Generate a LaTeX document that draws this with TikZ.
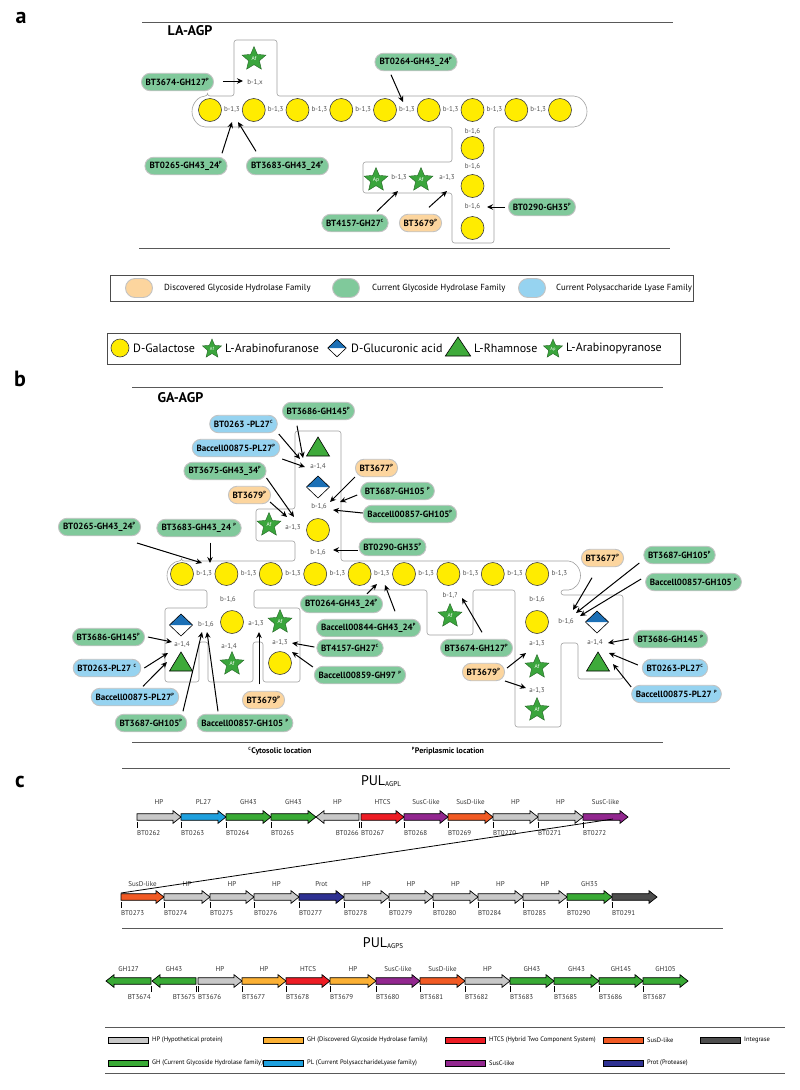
\documentclass[tikz,border=0pt]{standalone}
\usepackage{fontspec}
\setmainfont{PT Sans}
\usetikzlibrary{arrows.meta,shapes.geometric,shapes.misc}

\definecolor{ghgreen}{RGB}{128,201,155}
\definecolor{dghorange}{RGB}{252,213,158}
\definecolor{plblue}{RGB}{150,211,240}
\definecolor{pillline}{RGB}{195,195,195}
\definecolor{galyellow}{RGB}{255,236,0}
\definecolor{stargreen}{RGB}{58,165,60}
\definecolor{glcblue}{RGB}{28,112,182}
\definecolor{rhagreen}{RGB}{62,170,58}
\definecolor{linkgray}{RGB}{80,80,80}
\definecolor{boxline}{RGB}{160,160,160}
% gene colours
\definecolor{hpgray}{RGB}{200,200,200}
\definecolor{plgene}{RGB}{30,160,222}
\definecolor{ghgene}{RGB}{57,170,53}
\definecolor{dghgene}{RGB}{251,176,52}
\definecolor{htcsred}{RGB}{237,28,36}
\definecolor{suscpurple}{RGB}{146,39,143}
\definecolor{susdorange}{RGB}{241,90,36}
\definecolor{protnavy}{RGB}{46,49,146}
\definecolor{intgray}{RGB}{77,77,77}

\newcommand{\peri}{\textsuperscript{\fontsize{4.5}{5}\selectfont P}}
\newcommand{\cyto}{\textsuperscript{\fontsize{4.5}{5}\selectfont C}}
% gene arrow: tail x, head x, y, fill
\newcommand{\gene}[4]{%
  \pgfmathsetmacro{\hb}{#2-8*sign(#2-#1)}%
  \draw[genebody,fill=#4] (#1,#3-3.3) -- (\hb,#3-3.3) -- (\hb,#3-6.3) -- (#2,#3) -- (\hb,#3+6.3) -- (\hb,#3+3.3) -- (#1,#3+3.3) -- cycle;}

\begin{document}
\begin{tikzpicture}[x=1pt,y=-1pt,
    pill/.style={rounded rectangle, draw=pillline, line width=0.9pt, minimum height=17.5pt, inner xsep=3.5pt, inner ysep=0pt, font=\bfseries\fontsize{9}{10}\selectfont},
    gh/.style={pill, fill=ghgreen},
    dgh/.style={pill, fill=dghorange},
    pl/.style={pill, fill=plblue},
    gal/.style={circle, draw=black!75, line width=0.6pt, fill=galyellow, minimum size=23pt, inner sep=0pt},
    araf/.style={star, star points=5, star point ratio=2.2, minimum size=25pt, inner sep=0pt, fill=stargreen, draw=stargreen!60!black, line width=0.4pt, text=white, font=\fontsize{5.5}{6}\selectfont},
    link/.style={inner sep=0pt, text=linkgray, font=\fontsize{7}{8}\selectfont},
    enz/.style={-{Stealth[length=6pt,width=5.5pt]}, line width=1pt},
    outline/.style={draw=boxline, line width=0.6pt},
    rule/.style={draw=black!65, line width=0.9pt},
    legtext/.style={anchor=west, inner sep=0pt, font=\fontsize{8.8}{10}\selectfont},
    sugtext/.style={anchor=west, inner sep=0pt, font=\fontsize{12}{14}\selectfont},
    genebody/.style={draw=black, line width=0.7pt},
    tick/.style={line width=0.8pt},
    geneid/.style={inner sep=0pt, text=black!80, font=\fontsize{7}{8}\selectfont},
    genetop/.style={inner sep=0pt, text=black!80, font=\fontsize{7}{8}\selectfont},
    glca/.pic={\fill[glcblue] (-11.5,0) -- (0,-11) -- (11.5,0) -- cycle;
               \draw[line width=0.6pt] (-11.5,0) -- (0,-11) -- (11.5,0) -- (0,11) -- cycle;},
    rha/.pic={\draw[fill=rhagreen, line width=0.6pt] (-11.5,9) -- (0,-10) -- (11.5,9) -- cycle;}]
\useasboundingbox (0,0) rectangle (800,1090);

% ---------------- panel a ----------------
\node[font=\bfseries\fontsize{22}{24}\selectfont] (lettera) at (21,18) {a};
\draw[rule] (142,22) -- (673,22);
\draw[rule] (139,248) -- (670,248);
\node[font=\bfseries\fontsize{14}{16}\selectfont] (titlea) at (190,31) {LA-AGP};

% backbone outline
\draw[outline, rounded corners=2.5pt] (207.5,96) -- (234,96) -- (234,40) -- (277,40) -- (277,96) -- (571.5,96)
    arc[start angle=-90,end angle=90,radius=15.5] -- (494,127) -- (494,243) -- (452,243) -- (452,193)
    -- (363,193) -- (363,162) -- (452,162) -- (452,127) -- (207.5,127)
    arc[start angle=90,end angle=270,radius=15.5] -- cycle;

% galactan chain
\foreach \i in {0,...,8}
    \node[gal] (ga\i) at (210+43.75*\i,110) {};
\foreach \i in {0,...,7}
    \node[link] (la\i) at (231.9+43.75*\i,110) {b-1,3};
\foreach \i/\y in {1/148,2/186,3/228}
    \node[gal] (gv\i) at (472.5,\y) {};
\foreach \n/\xy/\t in {lv1/{472.5,132}/{b-1,6}, lv2/{472.5,167}/{b-1,6}, lv3/{472.5,207}/{b-1,6},
                      lx/{255,83}/{b-1,x}, lap/{399,178}/{b-1,3}, laf/{447,178}/{a-1,3}}
    \node[link] (\n) at (\xy) {\t};
\node[araf] (sa1) at (254,59) {Af};
\node[araf] (sa2) at (376,180) {Ap};
\node[araf] (sa3) at (421,180) {Af};

% enzymes
\node[gh]  (pa1) at (177.5,82) {BT3674-GH127\peri};
\node[gh]  (pa2) at (416,62)   {BT0264-GH43\_24\peri};
\node[gh]  (pa3) at (186,166)  {BT0265-GH43\_24\peri};
\node[gh]  (pa4) at (287.5,166) {BT3683-GH43\_24\peri};
\node[gh]  (pa5) at (355,223)  {BT4157-GH27\cyto};
\node[dgh] (pa6) at (420.5,223) {BT3679\peri};
\node[gh]  (pa7) at (542,207)  {BT0290-GH35\peri};

\foreach \n/\xy in {ta1/{243,81}, ta2/{403,102}, ta3/{232,122}, ta4/{238,122},
                    ta5/{398,191}, ta6/{447,191}, ta7/{487,207}}
    \coordinate (\n) at (\xy);
\foreach \p/\a/\s/\t in {pa1/east/{9,-1}/ta1, pa2/south/{-25,3.5}/ta2, pa3/north/{36,-3.5}/ta3,
                         pa4/north/{-31.5,-5.5}/ta4, pa5/north/{22,-2.5}/ta5, pa6/north/{8.5,-6.5}/ta6,
                         pa7/west/{-3,0}/ta7}
    \draw[enz] ([shift={(\s)}]\p.\a) -- (\t);

% ---------------- legends ----------------
\draw[draw=black!70, line width=0.8pt] (110,275) rectangle (693,301);
\node[pill, fill=dghorange, minimum width=34pt, minimum height=19pt] (lg1) at (139,288) {};
\node[legtext] (lg1t) at (164,288) {Discovered Glycoside Hydrolase Family};
\node[pill, fill=ghgreen, minimum width=34pt, minimum height=19pt] (lg2) at (346,288) {};
\node[legtext] (lg2t) at (372,288) {Current Glycoside Hydrolase Family};
\node[pill, fill=plblue, minimum width=34pt, minimum height=19pt] (lg3) at (532,288) {};
\node[legtext] (lg3t) at (556,288) {Current Polysaccharide Lyase Family};

\draw[draw=black!70, line width=0.8pt] (107,333) rectangle (680,364);
\node[gal, minimum size=18pt] (ls1) at (120,348) {};
\node[sugtext] (ls1t) at (133,348) {D-Galactose};
\node[araf, minimum size=20pt, font=\fontsize{4.5}{5}\selectfont] (ls2) at (212,349) {Af};
\node[sugtext] (ls2t) at (225,348) {L-Arabinofuranose};
\pic[scale=0.8] at (337,348) {glca};
\node[sugtext] (ls3t) at (351,348) {D-Glucuronic acid};
\pic[xscale=1.1] at (458,347) {rha};
\node[sugtext] (ls4t) at (474,348) {L-Rhamnose};
\node[araf, minimum size=20pt, font=\fontsize{4.5}{5}\selectfont] (ls5) at (553,349) {Ap};
\node[sugtext] (ls5t) at (566,348) {L-Arabinopyranose};

% ---------------- panel b ----------------
\node[font=\bfseries\fontsize{22}{24}\selectfont] (letterb) at (20,379) {b};
\draw[rule] (132,387) -- (663,387);
\draw[rule] (132,742) -- (663,742);
\node[font=\bfseries\fontsize{14}{16}\selectfont, anchor=west] (titleb) at (154,398) {GA-AGP};

% backbone outline
\draw[outline, rounded corners=2.5pt] (181.5,561) -- (295,561) -- (295,541) -- (256,541) -- (256,509) -- (295,509)
    -- (295,431) -- (341,431) -- (341,561) -- (566,561) arc[start angle=-90,end angle=90,radius=14.5]
    -- (561,590) -- (561,595) -- (623,595) -- (623,679) -- (578,679) -- (578,643) -- (561,643) -- (561,727)
    -- (515,727) -- (515,590) -- (473,590) -- (473,635) -- (427,635) -- (427,590) -- (254,590) -- (254,608)
    -- (300,608) -- (300,682) -- (263,682) -- (263,642) -- (253,642) -- (253,682) -- (208,682) -- (208,642)
    -- (199,642) -- (199,682) -- (165,682) -- (165,608) -- (207,608) -- (207,590) -- (181.5,590)
    arc[start angle=90,end angle=270,radius=14.5] -- cycle;

% galactan chain
\foreach \i in {0,...,8}
    \node[gal] (gb\i) at (182+44.4*\i,574) {};
\foreach \i in {0,...,8}
    \node[link] (lb\i) at (204.2+44.4*\i,574) {b-1,3};

% side chains
\foreach \n/\xy in {gu1/{318,530}, gl1/{232,622}, gl2/{280,663}, gr1/{537,622}}
    \node[gal] (\n) at (\xy) {};
\foreach \n/\xy in {su1/{269,525}, sl1/{280,622}, sl2/{232,664}, sm1/{450,616}, sr1/{537,667}, sr2/{537,710}}
    \node[araf] (\n) at (\xy) {Af};
\pic at (318,447) {rha};
\pic at (318,487) {glca};
\pic at (181,625) {glca};
\pic at (181,662) {rha};
\pic at (597,622) {glca};
\pic at (598,662) {rha};
\foreach \n/\xy/\t in {lu1/{318,467}/{a-1,4}, lu2/{319,507}/{b-1,6}, lu3/{293,528}/{a-1,3}, lu4/{318,553}/{b-1,6},
                      ll1/{228,600}/{b-1,6}, ll2/{206,625}/{b-1,6}, ll3/{256,624}/{a-1,3}, ll4/{182,645}/{a-1,4},
                      ll5/{229,647}/{a-1,4}, ll6/{280,643}/{a-1,3}, lm1/{450,596}/{b-1,?},
                      lr1/{537,600}/{b-1,6}, lr2/{566,622}/{b-1,6}, lr3/{595,643}/{a-1,4}, lr4/{537,644}/{a-1,3},
                      lr5/{537,691}/{a-1,3}}
    \node[link] (\n) at (\xy) {\t};

% enzymes
\node[gh]  (pb1)  at (318.5,411) {BT3686-GH145\peri};
\node[pl]  (pb2)  at (243.5,424) {BT0263 -PL27\cyto};
\node[pl]  (pb3)  at (236,448)   {Baccell00875-PL27\peri};
\node[gh]  (pb4)  at (225,471)   {BT3675-GH43\_34\peri};
\node[dgh] (pb5)  at (249.5,495) {BT3679\peri};
\node[dgh] (pb6)  at (376.5,468) {BT3677\peri};
\node[gh]  (pb7)  at (397.5,491) {BT3687-GH105 \peri};
\node[gh]  (pb8)  at (410,514)   {Baccell00857-GH105\peri};
\node[gh]  (pb9)  at (392.5,547) {BT0290-GH35\peri};
\node[gh]  (pb10) at (99.5,527)  {BT0265-GH43\_24\peri};
\node[gh]  (pb11) at (199,528)   {BT3683-GH43\_24 \peri};
\node[gh]  (pb12) at (108.5,637) {BT3686-GH145\peri};
\node[pl]  (pb13) at (107,668)   {BT0263-PL27 \cyto};
\node[pl]  (pb14) at (135,697)   {Baccell00875-PL27\peri};
\node[gh]  (pb15) at (151,723)   {BT3687-GH105\peri};
\node[gh]  (pb16) at (245,723)   {Baccell00857-GH105 \peri};
\node[dgh] (pb17) at (263.5,700) {BT3679\peri};
\node[gh]  (pb18) at (350,648)   {BT4157-GH27\cyto};
\node[gh]  (pb19) at (360,675)   {Baccell00859-GH97 \peri};
\node[gh]  (pb20) at (341.5,604) {BT0264-GH43\_24\peri};
\node[gh]  (pb21) at (368.5,628) {Baccell00844-GH43\_24\peri};
\node[gh]  (pb22) at (476.5,648) {BT3674-GH127\peri};
\node[dgh] (pb23) at (602.5,558) {BT3677\peri};
\node[gh]  (pb24) at (679.5,555) {BT3687-GH105\peri};
\node[gh]  (pb25) at (693.5,582) {Baccell00857-GH105 \peri};
\node[gh]  (pb26) at (670.5,639) {BT3686-GH145 \peri};
\node[pl]  (pb27) at (675,668)   {BT0263-PL27\cyto};
\node[pl]  (pb28) at (676.5,694) {Baccell00875-PL27 \peri};
\node[dgh] (pb29) at (483.5,672) {BT3679\peri};

\foreach \n/\xy in {tb1/{303,458}, tb2/{300,459}, tb3/{305,467}, tb4/{294,517}, tb5/{287,517},
                    tb6/{330,502}, tb7/{340,502}, tb8/{333,510}, tb9/{333,550}, tb10/{202,563},
                    tb11/{210,563}, tb12/{172,642}, tb13/{168,653}, tb14/{167,662}, tb15/{202,632},
                    tb16/{207,632}, tb17/{259,632}, tb18/{292,643}, tb19/{292,652}, tb20/{377,584},
                    tb21/{385,585}, tb22/{462,598}, tb23/{573,610}, tb24/{576,613}, tb25/{580,616},
                    tb26/{608,643}, tb27/{609,653}, tb28/{613,664}, tb29/{526,653}, tb30/{526,688}}
    \coordinate (\n) at (\xy);
\foreach \p/\a/\s/\t in {pb1/south/{-21.5,5.5}/tb1, pb2/east/{1,10}/tb2, pb3/east/{2,11}/tb3,
                         pb4/east/{0,7}/tb4, pb5/east/{-1,7}/tb5, pb6/west/{0,9}/tb6,
                         pb7/west/{-3,4}/tb7, pb8/west/{0,-1}/tb8, pb9/west/{-1,3}/tb9,
                         pb10/east/{-4,16}/tb10, pb11/south/{11,5.5}/tb11, pb12/east/{3,0}/tb12,
                         pb13/east/{3,0}/tb13, pb14/north/{8,-1.5}/tb14, pb15/north/{32,-2.5}/tb15,
                         pb16/north/{-27,-2.5}/tb16, pb17/north/{-4.5,-6.5}/tb17, pb18/west/{-2,-1}/tb18,
                         pb19/west/{-1,-8}/tb19, pb20/north/{25.5,-1}/tb20, pb21/north/{26.5,-7.5}/tb21,
                         pb22/north/{5.5,-6.5}/tb22, pb23/south/{-10.5,10.5}/tb23, pb24/west/{-4,8}/tb24,
                         pb25/west/{-4,-3}/tb25, pb26/west/{-4,0}/tb26, pb27/west/{-4,-3}/tb27,
                         pb28/west/{0,-7}/tb28, pb29/east/{2,-4}/tb29, pb29/east/{0,9}/tb30}
    \draw[enz] ([shift={(\s)}]\p.\a) -- (\t);

% location notes
\node[font=\bfseries\fontsize{8}{9}\selectfont] (noteC) at (280,751) {\cyto Cytosolic location};
\node[font=\bfseries\fontsize{8}{9}\selectfont] (noteP) at (448,751) {\peri Periplasmic location};

% ---------------- panel c ----------------
\node[font=\bfseries\fontsize{22}{24}\selectfont] (letterc) at (20,782) {c};
\draw[rule] (122,768) -- (730,768);
\draw[rule] (122,928) -- (723,928);
\node[font=\fontsize{14}{16}\selectfont] (pulagpl) at (381,781) {PUL\raisebox{-1.5pt}{\fontsize{7}{8}\selectfont AGPL}};
\node[font=\fontsize{14}{16}\selectfont] (pulagps) at (383,943) {PUL\raisebox{-1.5pt}{\fontsize{7}{8}\selectfont AGPS}};

% PUL AGPL, first row
\foreach \xt/\xh/\col/\gname/\gid/\anc [count=\k] in {137/181/hpgray/HP/BT0262/west, 181/226/plgene/PL27/BT0263/west,
        226/271/ghgene/GH43/BT0264/west, 271/316/ghgene/GH43/BT0265/west, 359/316/hpgray/HP/BT0266/east,
        361/404/htcsred/HTCS/BT0267/west, 404/448/suscpurple/SusC-like/BT0268/west,
        448/493/susdorange/SusD-like/BT0269/west, 493/538/hpgray/HP/BT0270/west,
        538/583/hpgray/HP/BT0271/west, 583/628/suscpurple/SusC-like/BT0272/west}{
    \gene{\xt}{\xh}{817}{\col}
    \draw[tick] (\xt,822) -- (\xt,828);
    \node[geneid, anchor=\anc] (ida\k) at (\xt,833) {\gid};
    \node[genetop] (gna\k) at ({(\xt+\xh)/2},802) {\gname};
}
% PUL AGPL, second row
\foreach \xt/\xh/\col/\gname/\gid [count=\k] in {121/164/susdorange/SusD-like/BT0273, 164/210/hpgray/HP/BT0274,
        210/254/hpgray/HP/BT0275, 254/299/hpgray/HP/BT0276, 299/344/protnavy/Prot/BT0277,
        344/389/hpgray/HP/BT0278, 389/433/hpgray/HP/BT0279, 433/478/hpgray/HP/BT0280,
        478/523/hpgray/HP/BT0284, 523/567/hpgray/HP/BT0285, 567/612/ghgene/GH35/BT0290,
        612/657/intgray//BT0291}{
    \gene{\xt}{\xh}{897}{\col}
    \draw[tick] (\xt,902) -- (\xt,908);
    \node[geneid, anchor=west] (idb\k) at (\xt,913) {\gid};
    \node[genetop] (gnb\k) at ({(\xt+\xh)/2},884) {\gname};
}
\coordinate (wrapa) at (613,819);
\coordinate (wrapb) at (121,893);
\draw[line width=0.8pt] (wrapa) -- (wrapb);

% PUL AGPS
\foreach \xt/\xh/\col/\gname/\gid/\anc [count=\k] in {151/106/ghgene/GH127/BT3674/east, 196/152/ghgene/GH43/BT3675/east,
        198/242/hpgray/HP/BT3676/west, 242/286/dghgene/HP/BT3677/west, 286/330/htcsred/HTCS/BT3678/west,
        330/376/dghgene/HP/BT3679/west, 376/420/suscpurple/SusC-like/BT3680/west,
        420/465/susdorange/SusD-like/BT3681/west, 465/510/hpgray/HP/BT3682/west,
        510/554/ghgene/GH43/BT3683/west, 554/599/ghgene/GH43/BT3685/west,
        599/643/ghgene/GH145/BT3686/west, 643/688/ghgene/GH105/BT3687/west}{
    \gene{\xt}{\xh}{981}{\col}
    \draw[tick] (\xt,986) -- (\xt,992);
    \node[geneid, anchor=\anc] (idc\k) at (\xt,997) {\gid};
    \node[genetop] (gnc\k) at ({(\xt+\xh)/2},969) {\gname};
}

% gene legend
\draw[rule] (105,1027) -- (785,1027);
\draw[rule] (105,1073) -- (785,1073);
\foreach \xb/\yb/\col/\txt [count=\k] in {108/1040/hpgray/{HP (Hypothetical protein)},
        263/1040/dghgene/{GH (Discovered Glycoside Hydrolase family)},
        445/1040/htcsred/{HTCS (Hybrid Two Component System)},
        603/1040/susdorange/{SusD-like}, 700/1040/intgray/{Integrase},
        108/1063/ghgene/{GH (Current Glycoside Hydrolase family)},
        263/1063/plgene/{PL (Current PolysaccharideLyase family)},
        445/1063/suscpurple/{SusC-like}, 603/1063/protnavy/{Prot (Protease)}}{
    \draw[genebody, fill=\col] (\xb,\yb-3) rectangle (\xb+40,\yb+3);
    \node[legtext, font=\fontsize{6.5}{7}\selectfont] (gl\k) at (\xb+44,\yb) {\txt};
}
\end{tikzpicture}
\end{document}
